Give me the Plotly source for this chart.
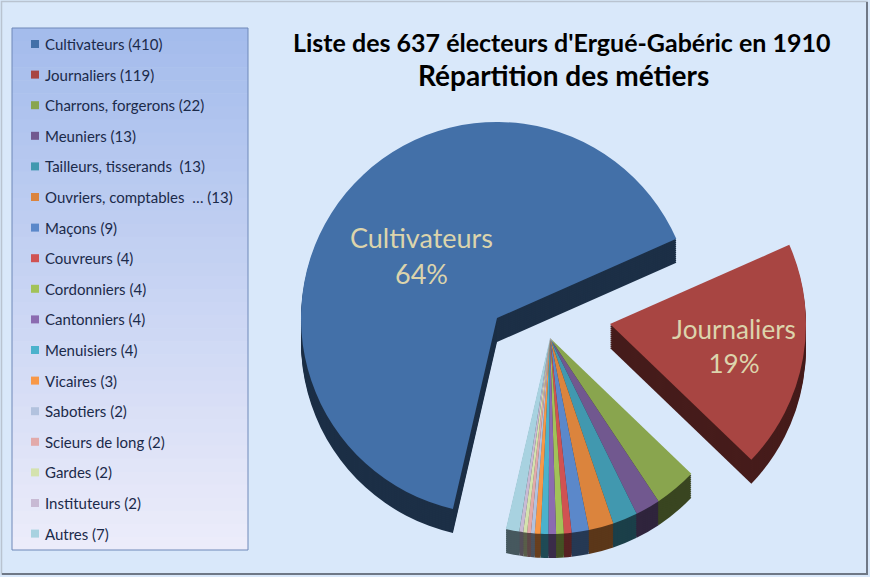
import plotly.graph_objects as go

labels = ["Cultivateurs", "Journaliers", "Charrons, forgerons", "Meuniers",
          "Tailleurs, tisserands ", "Ouvriers, comptables  …", "Maçons", "Couvreurs",
          "Cordonniers", "Cantonniers", "Menuisiers", "Vicaires", "Sabotiers",
          "Scieurs de long", "Gardes", "Instituteurs", "Autres"]
values = [410, 119, 22, 13, 13, 13, 9, 4, 4, 4, 4, 3, 2, 2, 2, 2, 7]
slice_text = ["Cultivateurs<br>64%", "Journaliers<br>19%"] + [""] * 15
colors = ["#4370A8", "#A84542", "#89A54E", "#71588F", "#4198AF", "#DB843D",
          "#5B88CA", "#D05252", "#A2C258", "#8B6BB0", "#4BB2CC", "#F89848",
          "#B2C2DE", "#E2AAAA", "#D4E2AE", "#C8BAD4", "#A8D2E0"]

W, H = 870, 577
def px(x):
    return x / W
def py(y):
    return 1 - y / H

def darker(hexc, f=0.42):
    h = hexc.lstrip("#")
    r, g, b = (int(h[i:i + 2], 16) for i in (0, 2, 4))
    return "rgb(%d,%d,%d)" % (r * f, g * f, b * f)

CLEAR = "rgba(0,0,0,0)"
R = 196      # pie radius in px
DEPTH = 24   # extrusion depth in px
# three exploded groups: (centre x, centre y, indices shown)
groups = [
    (497, 318, [0]),
    (610, 324, [1]),
    (550, 338, list(range(2, len(values)))),
]

fig = go.Figure()

def add_pie(cx, cy, show, face, with_text):
    cols = []
    for i, c in enumerate(colors):
        if i in show:
            cols.append(c if face else darker(c))
        else:
            cols.append(CLEAR)
    txt = [slice_text[i] if (with_text and i in show) else "" for i in range(len(values))]
    fig.add_trace(go.Pie(
        labels=labels, values=values, text=txt, textinfo="text",
        textposition="inside", insidetextorientation="horizontal",
        sort=False, direction="clockwise", rotation=193,
        marker=dict(colors=cols, line=dict(width=0)),
        textfont=dict(family="Lato", size=27, color="#DCD4AC"),
        domain=dict(x=[px(cx - R), px(cx + R)], y=[py(cy + R), py(cy - R)]),
        showlegend=False, hoverinfo="label+value" if face else "skip",
    ))

# side (extrusion) layers first, then the top faces
for cx, cy, show in groups:
    for d in range(DEPTH, 0, -2):
        add_pie(cx, cy + d, show, False, False)
for cx, cy, show in groups:
    add_pie(cx, cy, show, True, True)

shapes = []
# outer frame
shapes.append(dict(type="rect", xref="paper", yref="paper", x0=px(1.5), x1=px(867), y0=py(574), y1=py(1.5),
                   line=dict(color="#B9C3D0", width=1.5), fillcolor=CLEAR, layer="below"))
shapes.append(dict(type="line", xref="paper", yref="paper", x0=px(867), x1=px(867), y0=py(575), y1=py(2),
                   line=dict(color="#6F7886", width=2)))
shapes.append(dict(type="line", xref="paper", yref="paper", x0=px(2), x1=px(868), y0=py(574), y1=py(574),
                   line=dict(color="#6F7886", width=2)))
# legend gradient box
top = (164, 188, 236)
bot = (236, 236, 250)
N = 40
y0, y1 = 28, 550
for i in range(N):
    t = i / (N - 1)
    c = tuple(int(round(top[k] + (bot[k] - top[k]) * t)) for k in range(3))
    ya = y0 + (y1 - y0) * i / N
    yb = y0 + (y1 - y0) * (i + 1) / N + 0.6
    shapes.append(dict(type="rect", xref="paper", yref="paper", x0=px(12), x1=px(248),
                       y0=py(min(yb, y1)), y1=py(ya), line=dict(width=0),
                       fillcolor="rgb(%d,%d,%d)" % c, layer="below"))
shapes.append(dict(type="rect", xref="paper", yref="paper", x0=px(12), x1=px(248), y0=py(550), y1=py(28),
                   line=dict(color="#6E88B8", width=1), fillcolor=CLEAR, layer="below"))

annotations = []
for i, (lab, val, col) in enumerate(zip(labels, values, colors)):
    yc = 44 + i * 30.6
    shapes.append(dict(type="rect", xref="paper", yref="paper", x0=px(31), x1=px(39),
                       y0=py(yc + 4), y1=py(yc - 4), line=dict(width=0), fillcolor=col))
    annotations.append(dict(x=px(43), y=py(yc), xref="paper", yref="paper", xanchor="left", yanchor="middle",
                            text="%s (%d)" % (lab, val), showarrow=False,
                            font=dict(family="Lato", size=15, color="#1B2A4A")))

annotations.append(dict(x=px(562), y=py(42), xref="paper", yref="paper", xanchor="center", yanchor="middle",
                        text="<b>Liste des 637 électeurs d'Ergué-Gabéric en 1910</b>", showarrow=False,
                        font=dict(family="Lato", size=25, color="#000000")))
annotations.append(dict(x=px(563), y=py(75), xref="paper", yref="paper", xanchor="center", yanchor="middle",
                        text="<b>Répartition des métiers</b>", showarrow=False,
                        font=dict(family="Lato", size=28, color="#000000")))

fig.update_layout(
    width=W, height=H, margin=dict(l=0, r=0, t=0, b=0),
    paper_bgcolor="#D9E8FA", plot_bgcolor="#D9E8FA",
    shapes=shapes, annotations=annotations, showlegend=False,
)
fig.write_html("out.html", config={"displayModeBar": False},
               post_script="document.body.style.margin='0px';document.body.style.overflow='hidden';")
